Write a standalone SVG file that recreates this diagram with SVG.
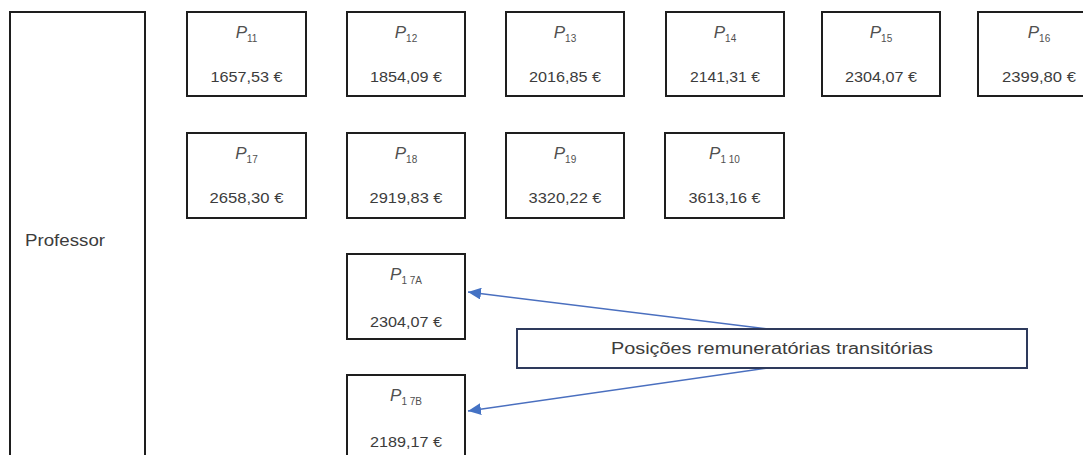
<svg xmlns="http://www.w3.org/2000/svg" width="1083" height="455" viewBox="0 0 1083 455">
<style>
.box{fill:#fff;stroke:#1e1e1e;stroke-width:2}
.t{font-family:"Liberation Sans",Arial,sans-serif;fill:#3c3c3c;text-anchor:middle}
.p{font-size:17px;font-style:italic;fill:#505050}
.s{font-size:10px;font-style:normal}
.v{font-size:15px}
.lbl{fill:#fff;stroke:#2e3a5c;stroke-width:2}
.conn{stroke:#4a6fbf;stroke-width:1.4;fill:none}
</style>
<defs>
<marker id="ah" markerUnits="userSpaceOnUse" markerWidth="14" markerHeight="12" refX="13" refY="6" orient="auto">
<path d="M0,0 L13,6 L0,12 Z" fill="#4472c4"/>
</marker>
</defs>
<rect width="1083" height="455" fill="#fff"/>
<g id="professor">
<path class="box" d="M10,470 V12 H145 V470" fill="#fff"/>
<text class="t" x="25" y="246" style="text-anchor:start;font-size:16px" textLength="80" lengthAdjust="spacingAndGlyphs">Professor</text>
</g>
<g id="p11"><rect class="box" x="187" y="12" width="119" height="84"/><text class="t p" x="246.5" y="38">P<tspan class="s" dy="4">11</tspan></text><text class="t v" x="246.5" y="82" textLength="72" lengthAdjust="spacingAndGlyphs">1657,53 €</text></g>
<g id="p12"><rect class="box" x="347" y="12" width="118" height="84"/><text class="t p" x="406" y="38">P<tspan class="s" dy="4">12</tspan></text><text class="t v" x="406" y="82" textLength="72" lengthAdjust="spacingAndGlyphs">1854,09 €</text></g>
<g id="p13"><rect class="box" x="506" y="12" width="118" height="84"/><text class="t p" x="565" y="38">P<tspan class="s" dy="4">13</tspan></text><text class="t v" x="565" y="82" textLength="72" lengthAdjust="spacingAndGlyphs">2016,85 €</text></g>
<g id="p14"><rect class="box" x="666" y="12" width="118" height="84"/><text class="t p" x="725" y="38">P<tspan class="s" dy="4">14</tspan></text><text class="t v" x="725" y="82" textLength="70" lengthAdjust="spacingAndGlyphs">2141,31 €</text></g>
<g id="p15"><rect class="box" x="822" y="12" width="118" height="84"/><text class="t p" x="881" y="38">P<tspan class="s" dy="4">15</tspan></text><text class="t v" x="881" y="82" textLength="72" lengthAdjust="spacingAndGlyphs">2304,07 €</text></g>
<g id="p16"><rect class="box" x="978" y="12" width="118" height="84"/><text class="t p" x="1039" y="38">P<tspan class="s" dy="4">16</tspan></text><text class="t v" x="1039" y="82" textLength="74" lengthAdjust="spacingAndGlyphs">2399,80 €</text></g>
<g id="p17"><rect class="box" x="187" y="133" width="119" height="85"/><text class="t p" x="246.5" y="159">P<tspan class="s" dy="4">17</tspan></text><text class="t v" x="246.5" y="203" textLength="74" lengthAdjust="spacingAndGlyphs">2658,30 €</text></g>
<g id="p18"><rect class="box" x="347" y="133" width="118" height="85"/><text class="t p" x="406" y="159">P<tspan class="s" dy="4">18</tspan></text><text class="t v" x="406" y="203" textLength="73" lengthAdjust="spacingAndGlyphs">2919,83 €</text></g>
<g id="p19"><rect class="box" x="506" y="133" width="118" height="85"/><text class="t p" x="565" y="159">P<tspan class="s" dy="4">19</tspan></text><text class="t v" x="565" y="203" textLength="73" lengthAdjust="spacingAndGlyphs">3320,22 €</text></g>
<g id="p110"><rect class="box" x="665" y="133" width="119" height="85"/><text class="t p" x="724.5" y="159">P<tspan class="s" dy="4">1 10</tspan></text><text class="t v" x="724.5" y="203" textLength="72" lengthAdjust="spacingAndGlyphs">3613,16 €</text></g>
<g id="p17a"><rect class="box" x="347" y="254" width="118" height="85"/><text class="t p" x="406" y="280">P<tspan class="s" dy="4">1 7A</tspan></text><text class="t v" x="406" y="327" textLength="72" lengthAdjust="spacingAndGlyphs">2304,07 €</text></g>
<g id="p17b"><rect class="box" x="347" y="375" width="118" height="100"/><text class="t p" x="406" y="401">P<tspan class="s" dy="4">1 7B</tspan></text><text class="t v" x="406" y="447" textLength="72" lengthAdjust="spacingAndGlyphs">2189,17 €</text></g>
<g id="connectors">
<line class="conn" x1="768" y1="329" x2="468" y2="292" marker-end="url(#ah)"/>
<line class="conn" x1="768" y1="368" x2="468" y2="411" marker-end="url(#ah)"/>
</g>
<g id="label">
<rect class="lbl" x="517" y="329" width="510" height="39"/>
<text class="t" x="772" y="354" style="font-size:16px" textLength="322" lengthAdjust="spacingAndGlyphs">Posições remuneratórias transitórias</text>
</g>
</svg>
